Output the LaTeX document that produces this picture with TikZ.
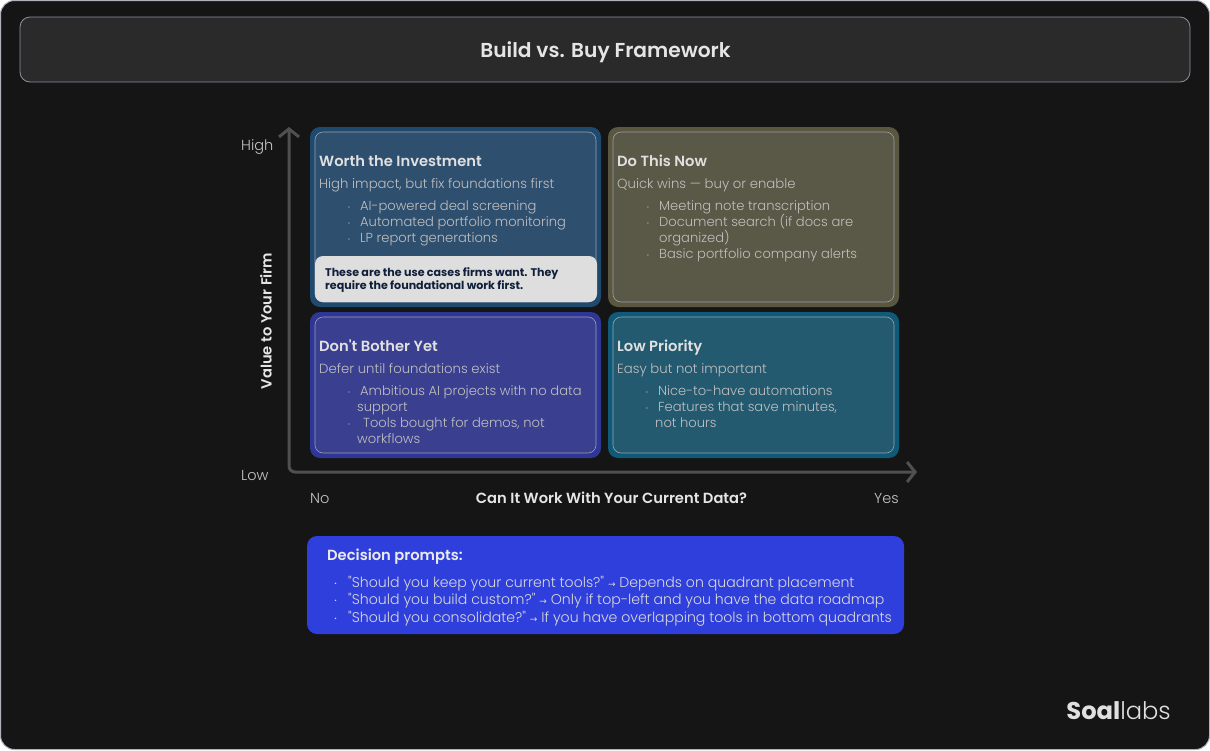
\documentclass[tikz,border=0pt]{standalone}
\usepackage{fontspec}
\newfontfamily\bodyfont{Poppins}[UprightFont=* Light, BoldFont=* SemiBold]
\AtBeginDocument{\bodyfont}
\newfontfamily\heavyfont{Poppins Bold}
\newfontfamily\arrowfont{DejaVu Sans}
\usetikzlibrary{arrows.meta}
\definecolor{pagebg}{HTML}{151515}
\definecolor{titlebg}{HTML}{2A2A2A}
\definecolor{edgeline}{HTML}{8C90A0}
\definecolor{axisline}{HTML}{505050}
\definecolor{worthout}{HTML}{1F4A6E}
\definecolor{worthin}{HTML}{2F4F6E}
\definecolor{nowout}{HTML}{5A5640}
\definecolor{nowin}{HTML}{5A5846}
\definecolor{waitout}{HTML}{2E3796}
\definecolor{waitin}{HTML}{3A3F90}
\definecolor{lowout}{HTML}{0F5A78}
\definecolor{lowin}{HTML}{245A70}
\definecolor{promptbg}{HTML}{2F3FDC}
\definecolor{notetext}{HTML}{10203A}
\newcommand{\bul}[1][9.5]{\llap{$\cdot$\hspace{#1pt}}}
\newcommand{\toarrow}{{\arrowfont\fontsize{9}{9}\selectfont →}}
\begin{document}
\begin{tikzpicture}[x=1pt, y=-1pt,
    outercard/.style={rounded corners=10pt, inner sep=0pt, minimum width=291pt},
    innercard/.style={draw=edgeline!85, line width=0.6pt, rounded corners=8pt, inner sep=0pt, minimum width=281pt},
    cardtitle/.style={anchor=base west, inner sep=0pt, text=white!88!black, font=\fontsize{14.7}{16}\selectfont\bfseries},
    cardsub/.style={anchor=base west, inner sep=0pt, text=white!75!black, font=\fontsize{13.25}{16}\selectfont},
    cardlist/.style={anchor=north west, inner sep=0pt, align=left, text=white!75!black, font=\fontsize{13.1}{16}\selectfont},
    axislabel/.style={inner sep=0pt, text=white!78!black, font=\fontsize{14.5}{16}\selectfont},
    axistitle/.style={inner sep=0pt, text=white!90!black, font=\fontsize{14.7}{16}\selectfont\bfseries},
    axisarrow/.style={draw=axisline, line width=3pt, rounded corners=6pt, {Straight Barb[length=8pt,width=20pt]}-{Straight Barb[length=8pt,width=20pt]}}]
    \useasboundingbox (0,0) rectangle (1210,750);
    \fill[white] (0,0) rectangle (1210,750);
    \node[draw=edgeline!70, fill=pagebg, line width=1pt, rounded corners=14pt, inner sep=0pt, minimum width=1209pt, minimum height=749pt] (page) at (605,375) {};

    \node[draw=edgeline, fill=titlebg, line width=0.8pt, rounded corners=10pt, inner sep=0pt, minimum width=1170pt, minimum height=65pt] (header) at (605,49.5) {};
    \node[inner sep=0pt, text=white!90!black, font=\fontsize{20.2}{24}\selectfont\bfseries] (headertext) at (605.5,52) {Build vs. Buy Framework};

    % axes
    \coordinate (axistop) at (289,127);
    \coordinate (axiscorner) at (289,472);
    \coordinate (axisend) at (917,472);
    \draw[axisarrow] (axistop) -- (axiscorner) -- (axisend);

    % quadrants
    \node[outercard, fill=worthout, minimum height=180pt] (worth) at (455.5,217) {};
    \node[innercard, fill=worthin, minimum height=170pt] (worthinner) at (455.5,217) {};
    \node[cardtitle] (worthtitle) at (319,166) {Worth the Investment};
    \node[cardsub] (worthsub) at (319,188) {High impact, but fix foundations first};
    \node[cardlist] (worthlist) at (360,200) {\bul AI-powered deal screening\\\bul Automated portfolio monitoring\\\bul LP report generations};
    \node[fill=white!87!black, rounded corners=8pt, inner sep=0pt, minimum width=282pt, minimum height=46pt] (worthnote) at (456,279) {};
    \node[anchor=north west, inner sep=0pt, align=left, text=notetext, font=\heavyfont\fontsize{11.1}{13}\selectfont] (worthnotetext) at (325,267) {These are the use cases firms want. They\\require the foundational work first.};

    \node[outercard, fill=nowout, minimum height=180pt] (now) at (753.5,217) {};
    \node[innercard, fill=nowin, minimum height=170pt] (nowinner) at (753.5,217) {};
    \node[cardtitle] (nowtitle) at (617,166) {Do This Now};
    \node[cardsub] (nowsub) at (617,188) {Quick wins — buy or enable};
    \node[cardlist] (nowlist) at (659,200) {\bul Meeting note transcription\\\bul Document search (if docs are\\organized)\\\bul Basic portfolio company alerts};

    \node[outercard, fill=waitout, minimum height=146pt] (wait) at (455.5,385) {};
    \node[innercard, fill=waitin, minimum height=136pt] (waitinner) at (455.5,385) {};
    \node[cardtitle] (waittitle) at (319,351) {Don't Bother Yet};
    \node[cardsub] (waitsub) at (319,373) {Defer until foundations exist};
    \node[cardlist] (waitlist) at (357,385) {\bul[6.5]\hspace{3pt}Ambitious AI projects with no data\\support\\\bul[6.5]\hspace{6pt}Tools bought for demos, not\\workflows};

    \node[outercard, fill=lowout, minimum height=146pt] (low) at (753.5,385) {};
    \node[innercard, fill=lowin, minimum height=136pt] (lowinner) at (753.5,385) {};
    \node[cardtitle] (lowtitle) at (617,351) {Low Priority};
    \node[cardsub] (lowsub) at (617,373) {Easy but not important};
    \node[cardlist] (lowlist) at (655,385) {\bul[6.5]\hspace{3pt}Nice-to-have automations\\\bul[6.5]\hspace{3pt}Features that save minutes,\\not hours};

    % axis labels
    \node[axislabel, anchor=west] (highlabel) at (241,147) {High};
    \node[axislabel, anchor=west] (lowlabel) at (241,475) {Low};
    \node[axislabel, anchor=west] (nolabel) at (310,498) {No};
    \node[axislabel, anchor=east] (yeslabel) at (899,498) {Yes};
    \node[axistitle, rotate=90] (valuelabel) at (266,321) {Value to Your Firm};
    \node[axistitle] (datalabel) at (611.5,498) {Can It Work With Your Current Data?};

    % prompts
    \node[fill=promptbg, rounded corners=10pt, inner sep=0pt, minimum width=597pt, minimum height=98pt] (prompts) at (605.5,585) {};
    \node[cardtitle, text=white!92!black] (promptstitle) at (327,560) {Decision prompts:};
    \node[cardlist, text=white!85!black, font=\fontsize{14.1}{17.5}\selectfont] (promptslist) at (348,576) {\bul[10.5]"Should you keep your current tools?" \toarrow{} Depends on quadrant placement\\\bul[10.5]"Should you build custom?" \toarrow{} Only if top-left and you have the data roadmap\\\bul[10.5]"Should you consolidate?" \toarrow{} If you have overlapping tools in bottom quadrants};

    % logo
    \node[anchor=east, inner sep=0pt, text=white!88!black, font=\fontsize{24.2}{28}\selectfont] (logo) at (1171,711) {{\heavyfont Soal}labs};
\end{tikzpicture}
\end{document}
